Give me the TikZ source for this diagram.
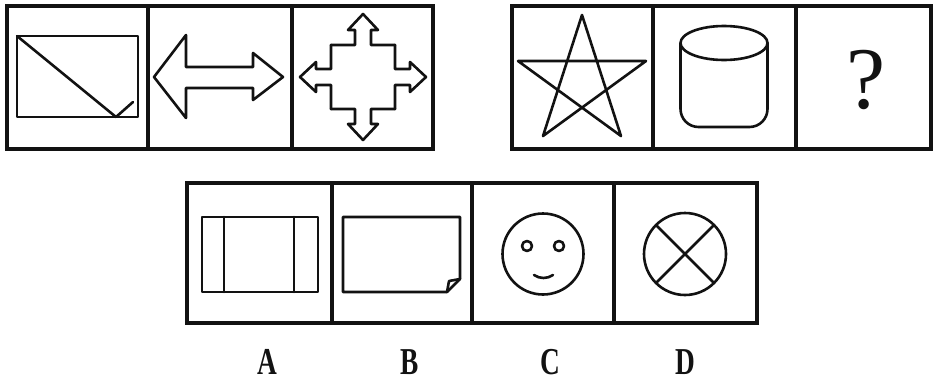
\documentclass[tikz,border=0pt]{standalone}
\usepackage{fontspec}
\usepackage{tikz}
\usetikzlibrary{positioning}
\newfontfamily\labelfont{Liberation Serif}
\definecolor{Ink}{RGB}{18, 18, 18}

\tikzset{
  cellbox/.style={draw=Ink, line width=3.4pt, inner sep=0pt, minimum height=#1},
  figline/.style={draw=Ink, line width=2.6pt, line join=round, line cap=round},
  optlabel/.style={font=\labelfont\fontsize{38}{38}\selectfont\bfseries, text=Ink, xscale=0.72, inner sep=0pt}
}

\begin{document}
\begin{tikzpicture}[x=1pt, y=-1pt]
  \useasboundingbox (0,0) rectangle (933,383);

  % question row
  \node[cellbox=143, minimum width=141] (q1) at (77.5,77.5) {};
  \node[cellbox=143, minimum width=144] (q2) at (220,77.5) {};
  \node[cellbox=143, minimum width=141] (q3) at (362.5,77.5) {};
  \node[cellbox=143, minimum width=141] (q4) at (582.5,77.5) {};
  \node[cellbox=143, minimum width=143] (q5) at (724.5,77.5) {};
  \node[cellbox=143, minimum width=135] (q6) at (863.5,77.5) {};

  % option row
  \node[cellbox=140, minimum width=145] (optA) at (259.5,253) {};
  \node[cellbox=140, minimum width=140] (optB) at (402,253) {};
  \node[cellbox=140, minimum width=142] (optC) at (543,253) {};
  \node[cellbox=140, minimum width=143] (optD) at (685.5,253) {};

  % rectangle with diagonal
  \draw[figline] (17,36) rectangle (138,117);
  \draw[figline] (17,36) -- (116,117) -- (133,102);

  % double arrow
  \draw[figline] (154,77) -- (186,35) -- (186,67) -- (253,67) -- (253,53)
    -- (283,77) -- (253,100) -- (253,88) -- (186,88) -- (186,118) -- cycle;

  % four-way arrow
  \begin{scope}[shift={(363,77)}]
    \foreach \a in {0,90,180,270}
      \draw[figline, rotate=\a] (-32,-32) -- (-8,-32) -- (-8,-47) -- (-15,-47)
        -- (0,-63) -- (15,-47) -- (8,-47) -- (8,-32) -- (32,-32);
  \end{scope}

  % star
  \begin{scope}[shift={(582,82)}]
    \draw[figline] (0,-67) -- (-39,54) -- (64,-21) -- (-64,-21) -- (39,54) -- cycle;
  \end{scope}

  % cylinder
  \draw[figline] (724,43) ellipse [x radius=43.5, y radius=17];
  \draw[figline, rounded corners=18] (680.5,43) -- (680.5,127) -- (767.5,127) -- (767.5,43);

  % question mark
  \node[font=\labelfont\fontsize{88}{88}\selectfont, text=Ink, inner sep=0pt] (qmark) at (866,80) {?};

  % option A
  \draw[figline] (202,217) rectangle (318,292);
  \draw[figline] (224,217) -- (224,292);
  \draw[figline] (294,217) -- (294,292);

  % option B
  \draw[figline] (343,217) -- (460,217) -- (460,279) -- (447,292) -- (343,292) -- cycle;
  \draw[figline] (460,279) -- (449,281) -- (447,292);

  % option C
  \draw[figline] (543,254) circle [radius=40.5];
  \draw[figline] (527,246) circle [radius=5];
  \draw[figline] (559,246) circle [radius=5];
  \draw[figline] (534,275) .. controls (540,279) and (547,279) .. (553,275);

  % option D
  \draw[figline] (685,254) circle [radius=41];
  \draw[figline] (656,225) -- (714,283);
  \draw[figline] (714,225) -- (656,283);

  % labels
  \node[optlabel] (labA) at (267,362) {A};
  \node[optlabel] (labB) at (410,362) {B};
  \node[optlabel] (labC) at (550,362) {C};
  \node[optlabel] (labD) at (685,362) {D};
\end{tikzpicture}
\end{document}
